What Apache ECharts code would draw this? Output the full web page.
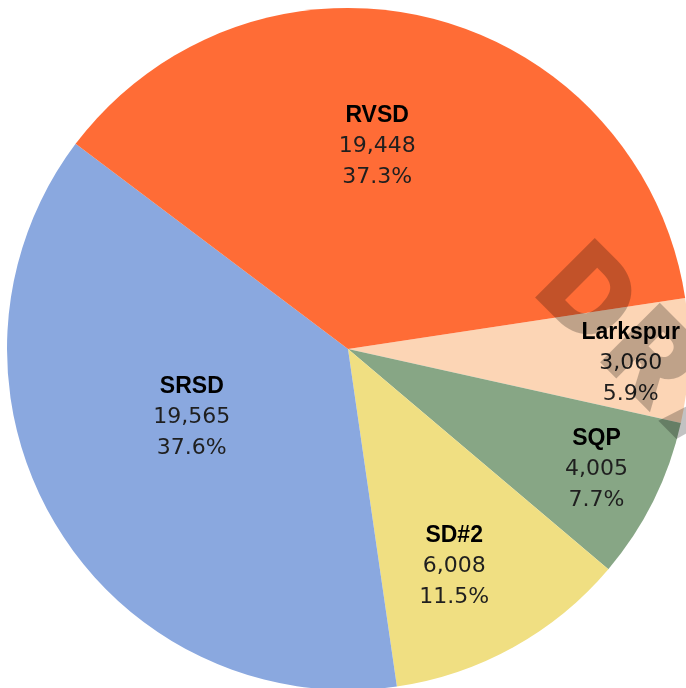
<!DOCTYPE html>
<html>
<head>
<meta charset="utf-8">
<script src="https://cdn.jsdelivr.net/npm/echarts@6/dist/echarts.min.js"></script>
<style>
  html, body { margin: 0; padding: 0; background: #fff; }
  #chart { width: 686px; height: 688px; }
</style>
</head>
<body>
<div id="chart"></div>
<script>
// slices in clockwise order, starting just above 3 o'clock
const names = ["Larkspur", "SQP", "SD#2", "SRSD", "RVSD"];
const values = [3060, 4005, 6008, 19565, 19448];
const colors = ["#fcd5b5", "#87a685", "#f0df82", "#8aa8df", "#ff6c36"];

// where Excel put each label: fraction of radius and angle nudge (deg)
const labelRadius = [0.83, 0.81, 0.71, 0.5, 0.6];
const labelNudge = [-1, 0.5, -3, -7, 6];

const startAngle = 8.6;
const cx = 348, cy = 349, R = 341;

const total = values.reduce((a, b) => a + b, 0);
const fmt = (v) => v.toLocaleString("en-US");

// mid angle of every slice (math degrees, counter-clockwise from east)
const midAngles = [];
let acc = 0;
values.forEach((v) => {
  const span = (v / total) * 360;
  midAngles.push(startAngle - acc - span / 2);
  acc += span;
});

const chart = echarts.init(document.getElementById("chart"));

chart.setOption({
  animation: false,
  series: [
    {
      type: "pie",
      center: [cx, cy],
      radius: R,
      startAngle: startAngle,
      clockwise: true,
      data: names.map((n, i) => ({
        name: n,
        value: values[i],
        itemStyle: { color: colors[i] },
      })),
      label: {
        show: true,
        position: "inside",
        formatter: (p) =>
          `{n|${p.name}}\n{v|${fmt(p.value)}}\n{v|${((p.value / total) * 100).toFixed(1)}%}`,
        rich: {
          n: {
            fontFamily: "Liberation Sans",
            fontWeight: "bold",
            fontSize: 23,
            color: "#000",
            lineHeight: 31,
          },
          v: {
            fontFamily: "DejaVu Sans",
            fontSize: 22,
            color: "#1f1f1f",
            lineHeight: 31,
          },
        },
      },
      labelLine: { show: false },
      labelLayout: (params) => {
        const i = params.dataIndex;
        const a = ((midAngles[i] + labelNudge[i]) * Math.PI) / 180;
        const r = R * labelRadius[i];
        return {
          x: cx + r * Math.cos(a),
          y: cy - r * Math.sin(a),
          align: "center",
          verticalAlign: "middle",
        };
      },
    },
  ],
  graphic: [
    {
      // DRAFT watermark, runs off the right edge
      type: "text",
      x: 556,
      y: 269,
      rotation: -Math.PI / 4,
      silent: true,
      z: 100,
      style: {
        text: "D\u200AR\u200AA\u200AF\u200AT",
        font: "900 116px Inter, Lato, 'DejaVu Sans'",
        fill: "rgba(0,0,0,0.24)",
        textAlign: "left",
        textVerticalAlign: "middle",
      },
    },
  ],
});
</script>
</body>
</html>
